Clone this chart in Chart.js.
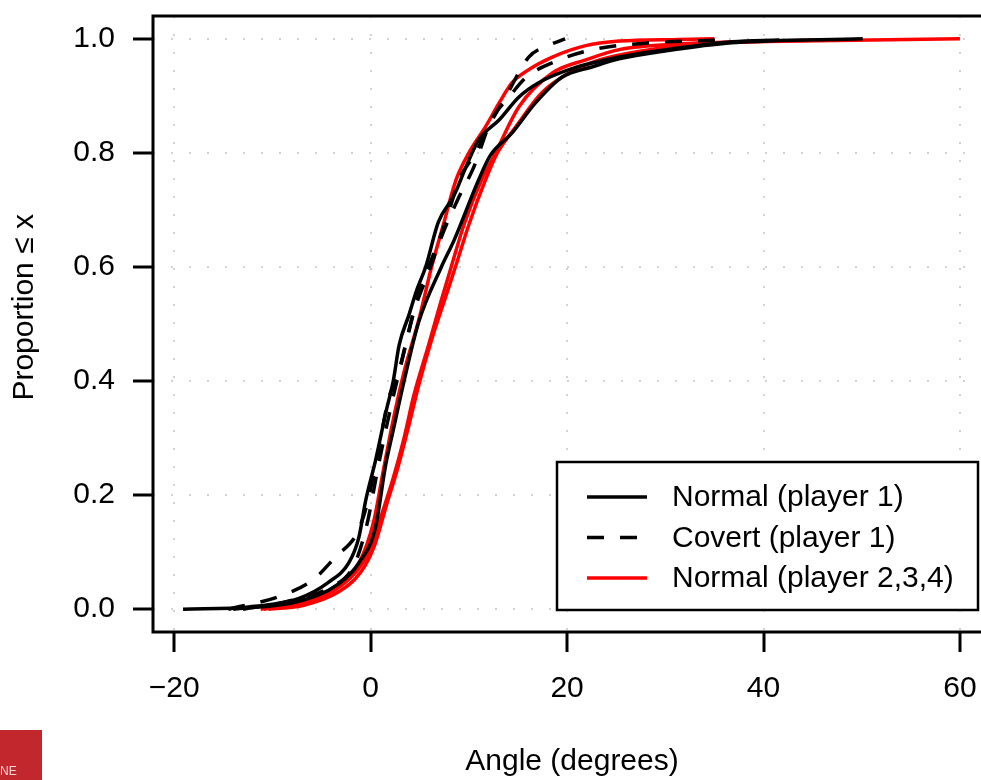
<!DOCTYPE html>
<html>
<head>
<meta charset="utf-8">
<script src="https://cdn.jsdelivr.net/npm/chart.js@4.4.0/dist/chart.umd.min.js"></script>
<style>
  html, body { margin: 0; padding: 0; background: #fff; overflow: hidden; }
  canvas { display: block; }
</style>
</head>
<body>
<canvas id="grafico" width="1000" height="780"></canvas>
<script>
// ejes
const xTicks = [-20, 0, 20, 40, 60];
const xTickLabels = ['\u221220', '0', '20', '40', '60'];
const yTicks = [0, 0.2, 0.4, 0.6, 0.8, 1.0];
const yTickLabels = ['0.0', '0.2', '0.4', '0.6', '0.8', '1.0'];

// Normal (player 1) - dos curvas
const anguloNormal1a = [-19.1, -12.4, -7.3, -4.3, -2.2, -1.2, -0.5, 0.5, 1.6, 2.3, 2.9, 3.9, 4.7, 5.6, 6.9, 8.5, 9.7, 11.0, 13.1, 15.1, 17.1, 20.2, 25.3, 30.1, 36.8, 41.6];
const propNormal1a   = [0.000, 0.004, 0.019, 0.047, 0.082, 0.126, 0.191, 0.261, 0.349, 0.400, 0.463, 0.516, 0.560, 0.600, 0.679, 0.726, 0.775, 0.823, 0.858, 0.898, 0.923, 0.946, 0.968, 0.981, 0.995, 0.998];
const anguloNormal1b = [-14.0, -7.3, -3.3, -1.2, 0.5, 1.5, 2.3, 3.4, 4.9, 7.2, 8.5, 11.0, 12.2, 14.4, 16.8, 19.5, 22.6, 25.3, 30.1, 36.8, 50.1];
const propNormal1b   = [0.000, 0.014, 0.044, 0.081, 0.144, 0.250, 0.314, 0.400, 0.504, 0.600, 0.647, 0.753, 0.796, 0.835, 0.888, 0.933, 0.951, 0.965, 0.979, 0.993, 1.000];

// Covert (player 1) - dos curvas
const anguloCovert1a = [-14.5, -9.2, -5.9, -3.5, -1.4, -0.4, 0.6, 1.8, 2.9, 3.9, 4.9, 6.1, 7.7, 9.0, 10.7, 12.0, 13.8, 16.1, 18.2, 19.8];
const propCovert1a   = [0.000, 0.023, 0.051, 0.093, 0.133, 0.182, 0.261, 0.367, 0.419, 0.489, 0.556, 0.609, 0.682, 0.753, 0.800, 0.846, 0.900, 0.968, 0.989, 1.000];
const anguloCovert1b = [-13.0, -8.4, -4.3, -1.7, -0.4, 0.8, 2.1, 3.4, 4.4, 5.9, 7.4, 9.0, 10.5, 12.3, 14.1, 15.8, 19.2, 22.6, 28.4, 36.0];
const propCovert1b   = [0.000, 0.014, 0.037, 0.077, 0.147, 0.253, 0.358, 0.451, 0.521, 0.591, 0.661, 0.723, 0.775, 0.858, 0.898, 0.932, 0.963, 0.981, 0.993, 0.998];

// Normal (player 2,3,4)
const anguloNormal2 = [-11.2, -7.3, -4.0, -1.2, 0.3, 1.3, 2.3, 3.4, 4.9, 6.2, 7.4, 8.7, 10.0, 11.7, 13.1, 14.4, 16.1, 18.5, 21.9, 25.3, 31.4, 35.0];
const propNormal2   = [0.000, 0.011, 0.035, 0.081, 0.153, 0.244, 0.332, 0.416, 0.507, 0.600, 0.674, 0.753, 0.800, 0.846, 0.888, 0.923, 0.946, 0.968, 0.988, 0.996, 0.999, 1.000];
const anguloNormal3 = [-10.9, -7.3, -3.8, -1.4, 0.0, 1.1, 2.3, 3.4, 4.4, 5.9, 7.2, 8.2, 9.5, 11.3, 12.6, 15.1, 18.5, 21.9, 25.3, 31.5, 43.7, 60.0];
const propNormal3   = [0.000, 0.009, 0.032, 0.067, 0.107, 0.165, 0.230, 0.300, 0.375, 0.463, 0.542, 0.600, 0.674, 0.753, 0.796, 0.881, 0.940, 0.963, 0.981, 0.991, 0.996, 1.000];
const anguloNormal4 = [-10.4, -6.8, -3.3, -1.0, 0.4, 1.6, 2.7, 3.9, 4.9, 6.2, 7.7, 8.8, 10.0, 11.7, 12.9, 14.8, 17.4, 20.2, 23.3, 28.4, 35.5, 45.7];
const propNormal4   = [0.000, 0.007, 0.030, 0.065, 0.112, 0.182, 0.244, 0.323, 0.393, 0.472, 0.551, 0.609, 0.674, 0.753, 0.800, 0.846, 0.905, 0.940, 0.963, 0.981, 0.993, 0.998];

const leyendaTextos = ['Normal (player 1)', 'Covert (player 1)', 'Normal (player 2,3,4)'];

const fuente = { family: "'Liberation Sans', Arial, Helvetica, sans-serif", size: 30 };
const guion = [17, 16];

// orden: el primero queda arriba
const series = [
  { x: anguloCovert1a, y: propCovert1a, color: '#000000', dash: guion },
  { x: anguloCovert1b, y: propCovert1b, color: '#000000', dash: guion },
  { x: anguloNormal1a, y: propNormal1a, color: '#000000', dash: [] },
  { x: anguloNormal1b, y: propNormal1b, color: '#000000', dash: [] },
  { x: anguloNormal2, y: propNormal2, color: '#ff0000', dash: [] },
  { x: anguloNormal3, y: propNormal3, color: '#ff0000', dash: [] },
  { x: anguloNormal4, y: propNormal4, color: '#ff0000', dash: [] }
];

const datasets = series.map((s) => ({
  data: s.x.map((v, i) => ({ x: v, y: s.y[i] })),
  borderColor: s.color,
  borderWidth: 3.5,
  borderDash: s.dash,
  borderCapStyle: 'butt',
  borderJoinStyle: 'round',
  pointRadius: 0,
  fill: false,
  cubicInterpolationMode: 'monotone'
}));

const leyendaEstilos = [
  { color: '#000000', dash: [] },
  { color: '#000000', dash: guion },
  { color: '#ff0000', dash: [] }
];

// caja del grafico, leyenda y el recorte rojo de abajo
const marcoLeyenda = {
  id: 'marcoLeyenda',
  afterDraw(chart) {
    const ctx = chart.ctx;
    const area = chart.chartArea;
    ctx.save();
    ctx.strokeStyle = '#000';
    ctx.lineWidth = 3;
    ctx.setLineDash([]);
    ctx.strokeRect(area.left, area.top, area.right - area.left, area.bottom - area.top);

    // leyenda
    const caja = { x: 557, y: 462, w: 421, h: 148 };
    ctx.fillStyle = '#fff';
    ctx.fillRect(caja.x, caja.y, caja.w, caja.h);
    ctx.lineWidth = 2.5;
    ctx.strokeRect(caja.x, caja.y, caja.w, caja.h);
    ctx.font = `${fuente.size}px ${fuente.family}`;
    ctx.textBaseline = 'middle';
    ctx.textAlign = 'left';
    leyendaTextos.forEach((texto, i) => {
      const fila = caja.y + 35 + i * 40.5;
      ctx.strokeStyle = leyendaEstilos[i].color;
      ctx.lineWidth = 3.5;
      ctx.setLineDash(leyendaEstilos[i].dash);
      ctx.beginPath();
      ctx.moveTo(587, fila);
      ctx.lineTo(647, fila);
      ctx.stroke();
      ctx.setLineDash([]);
      ctx.fillStyle = '#000';
      ctx.fillText(texto, 672, fila + 1);
    });

    ctx.fillStyle = '#c1272d';
    ctx.fillRect(0, 730, 42, 50);
    ctx.fillStyle = '#f3d6d6';
    ctx.font = `12px ${fuente.family}`;
    ctx.fillText('NE', 0, 772);
    ctx.restore();
  }
};

const sinMargen = (eje) => {
  eje.paddingTop = 0;
  eje.paddingBottom = 0;
  eje.paddingLeft = 0;
  eje.paddingRight = 0;
};

const grafico = new Chart(document.getElementById('grafico'), {
  type: 'line',
  data: { datasets },
  options: {
    responsive: false,
    animation: false,
    events: [],
    layout: { autoPadding: false, padding: { top: 16, right: 9, left: 0, bottom: 0 } },
    plugins: { legend: { display: false }, tooltip: { enabled: false } },
    scales: {
      x: {
        type: 'linear',
        position: 'bottom',
        min: -22.16,
        max: 63.16,
        afterBuildTicks: (eje) => { eje.ticks = xTicks.map((v) => ({ value: v })); },
        afterFit: (eje) => { eje.height = 148; sinMargen(eje); },
        ticks: {
          callback: (v, i) => xTickLabels[i],
          color: '#000',
          font: fuente,
          padding: 19,
          maxRotation: 0,
          autoSkip: false
        },
        grid: { color: '#d3d3d3', lineWidth: 2, tickColor: '#000', tickWidth: 3, tickLength: 20, tickBorderDash: [] },
        border: { display: false, dash: [2, 16] },
        title: { display: true, text: 'Angle (degrees)', color: '#000', font: fuente, padding: { top: 0, bottom: 0 } }
      },
      y: {
        type: 'linear',
        position: 'left',
        min: -0.04,
        max: 1.04,
        afterBuildTicks: (eje) => { eje.ticks = yTicks.map((v) => ({ value: v })); },
        afterFit: (eje) => { eje.width = 153; sinMargen(eje); },
        ticks: {
          callback: (v, i) => yTickLabels[i],
          color: '#000',
          font: fuente,
          padding: 18,
          autoSkip: false
        },
        grid: { color: '#d3d3d3', lineWidth: 2, tickColor: '#000', tickWidth: 3, tickLength: 20, tickBorderDash: [] },
        border: { display: false, dash: [2, 16] },
        title: { display: true, text: '\u00a0\u00a0\u00a0\u00a0Proportion \u2264 x', color: '#000', font: fuente, padding: { top: 7, bottom: 0 } }
      }
    }
  },
  plugins: [marcoLeyenda]
});
</script>
</body>
</html>
